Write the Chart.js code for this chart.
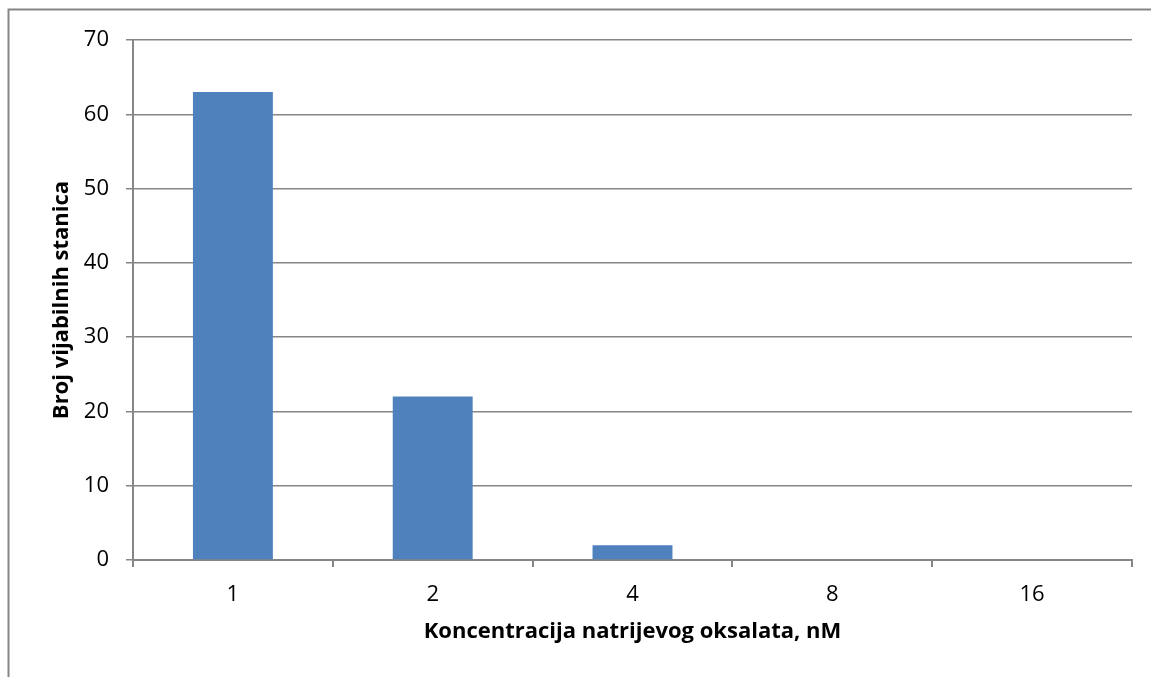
<!DOCTYPE html>
<html>
<head>
<meta charset="utf-8">
<script src="https://cdn.jsdelivr.net/npm/chart.js@4"></script>
<style>
  html, body { margin: 0; padding: 0; background: #fff; }
  #wrap { width: 1151px; height: 677px; position: relative; }
</style>
</head>
<body>
<div id="wrap"><canvas id="myChart"></canvas></div>
<script>
// values
var koncentracije = ['1', '2', '4', '8', '16'];
var vijabilne = [63, 22, 2, 0, 0];
var yTicks = [0, 10, 20, 30, 40, 50, 60, 70];

var axisGrey = '#868686';
var fontName = "'Open Sans', 'Liberation Sans', sans-serif";

// excel-style frame: only top and left edge visible (picture is cropped)
var frame = {
  id: 'frame',
  afterDraw: function(chart) {
    var ctx = chart.ctx;
    ctx.save();
    ctx.strokeStyle = axisGrey;
    ctx.lineWidth = 2;
    ctx.beginPath();
    ctx.moveTo(8.5, 677);
    ctx.lineTo(8.5, 9.5);
    ctx.lineTo(1151, 9.5);
    ctx.stroke();
    ctx.restore();
  }
};

var ctx = document.getElementById('myChart').getContext('2d');
var myBarChart = new Chart(ctx, {
  type: 'bar',
  data: {
    labels: koncentracije,
    datasets: [{
      data: vijabilne,
      backgroundColor: '#4F81BD',
      borderWidth: 0,
      barPercentage: 0.4,
      categoryPercentage: 1
    }]
  },
  options: {
    responsive: true,
    maintainAspectRatio: false,
    animation: false,
    layout: { padding: { left: 45, top: 40, right: 19, bottom: 28 } },
    plugins: { legend: { display: false }, tooltip: { enabled: false } },
    scales: {
      x: {
        afterFit: function(scale) { scale.height = 89; },
        grid: { offset: true, drawOnChartArea: false, tickLength: 7, color: axisGrey, lineWidth: 2 },
        border: { color: axisGrey, width: 2 },
        ticks: { color: '#000', padding: 15, font: { family: fontName, size: 22 } },
        title: {
          display: true,
          text: 'Koncentracija natrijevog oksalata, nM',
          color: '#000',
          font: { family: fontName, size: 22, weight: 'bold' }
        }
      },
      y: {
        min: 0,
        max: 70,
        afterFit: function(scale) { scale.width = 88; },
        afterBuildTicks: function(scale) {
          scale.ticks = yTicks.map(function(v) { return { value: v }; });
        },
        grid: { color: axisGrey, lineWidth: 1.5, tickLength: 7 },
        border: { color: axisGrey, width: 2 },
        ticks: { color: '#000', padding: 17, font: { family: fontName, size: 22 } },
        title: {
          display: true,
          text: 'Broj vijabilnih stanica',
          color: '#000',
          font: { family: fontName, size: 22, weight: 'bold' }
        }
      }
    }
  },
  plugins: [frame]
});
</script>
</body>
</html>
